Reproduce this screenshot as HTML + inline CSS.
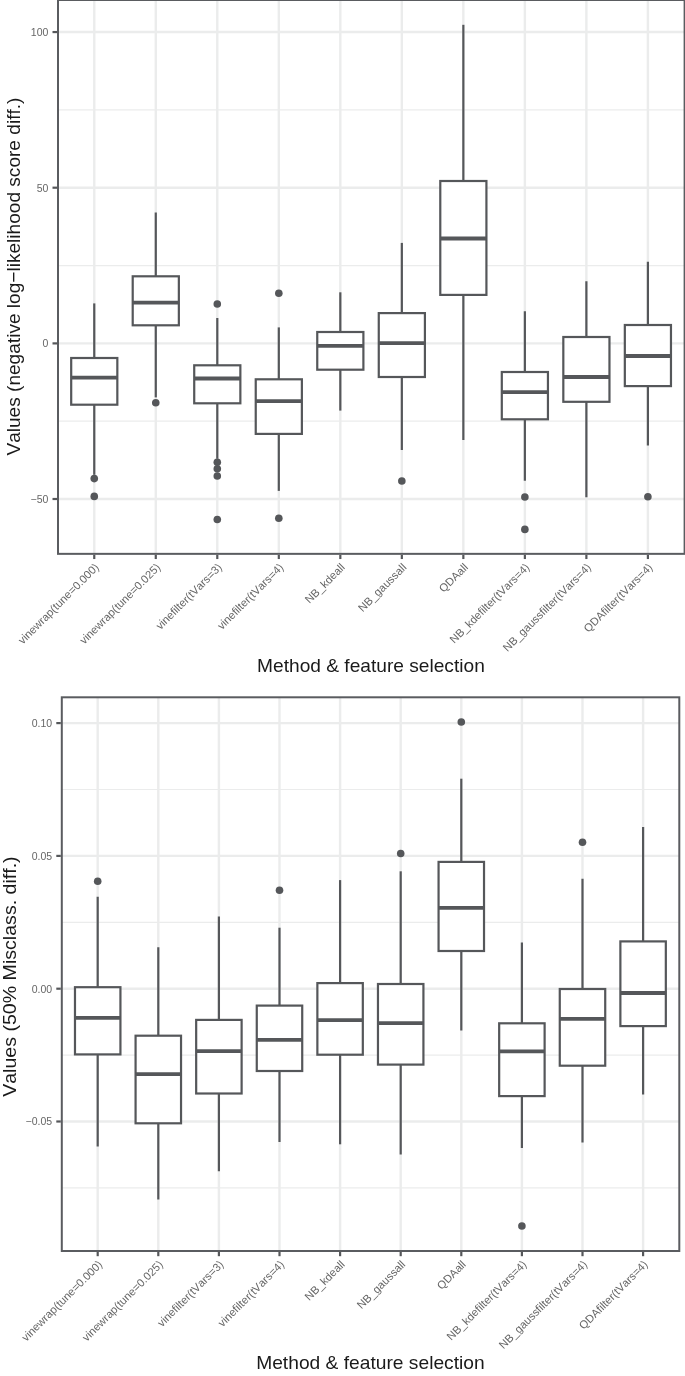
<!DOCTYPE html>
<html><head><meta charset="utf-8"><title>Boxplots</title>
<style>
html,body{margin:0;padding:0;background:#fff;}
body{width:685px;height:1376px;overflow:hidden;font-family:"Liberation Sans",sans-serif;}
svg{display:block;font-family:"Liberation Sans",sans-serif;will-change:transform;font-kerning:none;}
</style></head><body>
<svg width="685" height="1376" viewBox="0 0 685 1376">
<rect width="685" height="1376" fill="#fff"/>
<clipPath id="ac"><rect x="58.0" y="0.0" width="626.6" height="553.85"/></clipPath>
<g clip-path="url(#ac)">
<line x1="58.0" x2="684.6" y1="109.9" y2="109.9" stroke="#ebecec" stroke-width="1.2"/>
<line x1="58.0" x2="684.6" y1="265.6" y2="265.6" stroke="#ebecec" stroke-width="1.2"/>
<line x1="58.0" x2="684.6" y1="421.2" y2="421.2" stroke="#ebecec" stroke-width="1.2"/>
<line x1="58.0" x2="684.6" y1="32.06" y2="32.06" stroke="#ebecec" stroke-width="2.4"/>
<line x1="58.0" x2="684.6" y1="187.7" y2="187.7" stroke="#ebecec" stroke-width="2.4"/>
<line x1="58.0" x2="684.6" y1="343.4" y2="343.4" stroke="#ebecec" stroke-width="2.4"/>
<line x1="58.0" x2="684.6" y1="499.0" y2="499.0" stroke="#ebecec" stroke-width="2.4"/>
<line x1="94.26" x2="94.26" y1="0.0" y2="553.85" stroke="#ebecec" stroke-width="2.4"/>
<line x1="155.78" x2="155.78" y1="0.0" y2="553.85" stroke="#ebecec" stroke-width="2.4"/>
<line x1="217.29" x2="217.29" y1="0.0" y2="553.85" stroke="#ebecec" stroke-width="2.4"/>
<line x1="278.81" x2="278.81" y1="0.0" y2="553.85" stroke="#ebecec" stroke-width="2.4"/>
<line x1="340.32" x2="340.32" y1="0.0" y2="553.85" stroke="#ebecec" stroke-width="2.4"/>
<line x1="401.84" x2="401.84" y1="0.0" y2="553.85" stroke="#ebecec" stroke-width="2.4"/>
<line x1="463.35" x2="463.35" y1="0.0" y2="553.85" stroke="#ebecec" stroke-width="2.4"/>
<line x1="524.87" x2="524.87" y1="0.0" y2="553.85" stroke="#ebecec" stroke-width="2.4"/>
<line x1="586.38" x2="586.38" y1="0.0" y2="553.85" stroke="#ebecec" stroke-width="2.4"/>
<line x1="647.90" x2="647.90" y1="0.0" y2="553.85" stroke="#ebecec" stroke-width="2.4"/>
<line x1="94.26" x2="94.26" y1="303.4" y2="358.0" stroke="#55575a" stroke-width="2.2"/>
<line x1="94.26" x2="94.26" y1="404.7" y2="474.8" stroke="#55575a" stroke-width="2.2"/>
<rect x="71.19" y="358.0" width="46.14" height="46.70" fill="#fff" stroke="#55575a" stroke-width="2.2"/>
<line x1="71.19" x2="117.33" y1="377.6" y2="377.6" stroke="#55575a" stroke-width="3.8"/>
<circle cx="94.26" cy="478.6" r="3.8" fill="#55575a"/>
<circle cx="94.26" cy="496.4" r="3.8" fill="#55575a"/>
<line x1="155.78" x2="155.78" y1="212.5" y2="276.3" stroke="#55575a" stroke-width="2.2"/>
<line x1="155.78" x2="155.78" y1="325.3" y2="397.4" stroke="#55575a" stroke-width="2.2"/>
<rect x="132.71" y="276.3" width="46.14" height="49.00" fill="#fff" stroke="#55575a" stroke-width="2.2"/>
<line x1="132.71" x2="178.84" y1="302.6" y2="302.6" stroke="#55575a" stroke-width="3.8"/>
<circle cx="155.78" cy="402.7" r="3.8" fill="#55575a"/>
<line x1="217.29" x2="217.29" y1="318.0" y2="365.3" stroke="#55575a" stroke-width="2.2"/>
<line x1="217.29" x2="217.29" y1="403.3" y2="458.8" stroke="#55575a" stroke-width="2.2"/>
<rect x="194.22" y="365.3" width="46.14" height="38.00" fill="#fff" stroke="#55575a" stroke-width="2.2"/>
<line x1="194.22" x2="240.36" y1="378.5" y2="378.5" stroke="#55575a" stroke-width="3.8"/>
<circle cx="217.29" cy="304.0" r="3.8" fill="#55575a"/>
<circle cx="217.29" cy="462.3" r="3.8" fill="#55575a"/>
<circle cx="217.29" cy="468.7" r="3.8" fill="#55575a"/>
<circle cx="217.29" cy="476.0" r="3.8" fill="#55575a"/>
<circle cx="217.29" cy="519.5" r="3.8" fill="#55575a"/>
<line x1="278.81" x2="278.81" y1="327.4" y2="379.3" stroke="#55575a" stroke-width="2.2"/>
<line x1="278.81" x2="278.81" y1="433.9" y2="490.9" stroke="#55575a" stroke-width="2.2"/>
<rect x="255.74" y="379.3" width="46.14" height="54.60" fill="#fff" stroke="#55575a" stroke-width="2.2"/>
<line x1="255.74" x2="301.88" y1="401.2" y2="401.2" stroke="#55575a" stroke-width="3.8"/>
<circle cx="278.81" cy="293.2" r="3.8" fill="#55575a"/>
<circle cx="278.81" cy="518.3" r="3.8" fill="#55575a"/>
<line x1="340.32" x2="340.32" y1="292.3" y2="332.0" stroke="#55575a" stroke-width="2.2"/>
<line x1="340.32" x2="340.32" y1="369.7" y2="410.6" stroke="#55575a" stroke-width="2.2"/>
<rect x="317.25" y="332.0" width="46.14" height="37.70" fill="#fff" stroke="#55575a" stroke-width="2.2"/>
<line x1="317.25" x2="363.39" y1="345.8" y2="345.8" stroke="#55575a" stroke-width="3.8"/>
<line x1="401.84" x2="401.84" y1="242.9" y2="313.1" stroke="#55575a" stroke-width="2.2"/>
<line x1="401.84" x2="401.84" y1="377.0" y2="450.0" stroke="#55575a" stroke-width="2.2"/>
<rect x="378.77" y="313.1" width="46.14" height="63.90" fill="#fff" stroke="#55575a" stroke-width="2.2"/>
<line x1="378.77" x2="424.91" y1="343.1" y2="343.1" stroke="#55575a" stroke-width="3.8"/>
<circle cx="401.84" cy="481.0" r="3.8" fill="#55575a"/>
<line x1="463.35" x2="463.35" y1="24.8" y2="181.0" stroke="#55575a" stroke-width="2.2"/>
<line x1="463.35" x2="463.35" y1="294.9" y2="440.0" stroke="#55575a" stroke-width="2.2"/>
<rect x="440.28" y="181.0" width="46.14" height="113.90" fill="#fff" stroke="#55575a" stroke-width="2.2"/>
<line x1="440.28" x2="486.42" y1="238.5" y2="238.5" stroke="#55575a" stroke-width="3.8"/>
<line x1="524.87" x2="524.87" y1="311.3" y2="372.0" stroke="#55575a" stroke-width="2.2"/>
<line x1="524.87" x2="524.87" y1="419.3" y2="480.7" stroke="#55575a" stroke-width="2.2"/>
<rect x="501.80" y="372.0" width="46.14" height="47.30" fill="#fff" stroke="#55575a" stroke-width="2.2"/>
<line x1="501.80" x2="547.94" y1="392.2" y2="392.2" stroke="#55575a" stroke-width="3.8"/>
<circle cx="524.87" cy="497.0" r="3.8" fill="#55575a"/>
<circle cx="524.87" cy="529.4" r="3.8" fill="#55575a"/>
<line x1="586.38" x2="586.38" y1="281.2" y2="337.0" stroke="#55575a" stroke-width="2.2"/>
<line x1="586.38" x2="586.38" y1="401.8" y2="497.3" stroke="#55575a" stroke-width="2.2"/>
<rect x="563.32" y="337.0" width="46.14" height="64.80" fill="#fff" stroke="#55575a" stroke-width="2.2"/>
<line x1="563.32" x2="609.45" y1="377.0" y2="377.0" stroke="#55575a" stroke-width="3.8"/>
<line x1="647.90" x2="647.90" y1="261.7" y2="325.0" stroke="#55575a" stroke-width="2.2"/>
<line x1="647.90" x2="647.90" y1="386.1" y2="445.6" stroke="#55575a" stroke-width="2.2"/>
<rect x="624.83" y="325.0" width="46.14" height="61.10" fill="#fff" stroke="#55575a" stroke-width="2.2"/>
<line x1="624.83" x2="670.97" y1="356.0" y2="356.0" stroke="#55575a" stroke-width="3.8"/>
<circle cx="647.90" cy="496.7" r="3.8" fill="#55575a"/>
</g>
<rect x="58.0" y="0.0" width="626.6" height="553.85" fill="none" stroke="#5a5c60" stroke-width="2.0"/>
<line x1="52.5" x2="57.0" y1="32.06" y2="32.06" stroke="#55575a" stroke-width="2.2"/>
<text x="48.4" y="35.86" text-anchor="end" font-size="10.5" fill="#666666">100</text>
<line x1="52.5" x2="57.0" y1="187.7" y2="187.7" stroke="#55575a" stroke-width="2.2"/>
<text x="48.4" y="191.5" text-anchor="end" font-size="10.5" fill="#666666">50</text>
<line x1="52.5" x2="57.0" y1="343.4" y2="343.4" stroke="#55575a" stroke-width="2.2"/>
<text x="48.4" y="347.2" text-anchor="end" font-size="10.5" fill="#666666">0</text>
<line x1="52.5" x2="57.0" y1="499.0" y2="499.0" stroke="#55575a" stroke-width="2.2"/>
<text x="48.4" y="502.8" text-anchor="end" font-size="10.5" fill="#666666">−50</text>
<line x1="94.26" x2="94.26" y1="554.85" y2="559.0500000000001" stroke="#55575a" stroke-width="2.2"/>
<text transform="translate(99.56,568.05) rotate(-45)" text-anchor="end" font-size="11.2" fill="#666666">vinewrap(tune=0.000)</text>
<line x1="155.78" x2="155.78" y1="554.85" y2="559.0500000000001" stroke="#55575a" stroke-width="2.2"/>
<text transform="translate(161.08,568.05) rotate(-45)" text-anchor="end" font-size="11.2" fill="#666666">vinewrap(tune=0.025)</text>
<line x1="217.29" x2="217.29" y1="554.85" y2="559.0500000000001" stroke="#55575a" stroke-width="2.2"/>
<text transform="translate(222.59,568.05) rotate(-45)" text-anchor="end" font-size="11.2" fill="#666666">vinefilter(tVars=3)</text>
<line x1="278.81" x2="278.81" y1="554.85" y2="559.0500000000001" stroke="#55575a" stroke-width="2.2"/>
<text transform="translate(284.11,568.05) rotate(-45)" text-anchor="end" font-size="11.2" fill="#666666">vinefilter(tVars=4)</text>
<line x1="340.32" x2="340.32" y1="554.85" y2="559.0500000000001" stroke="#55575a" stroke-width="2.2"/>
<text transform="translate(345.62,568.05) rotate(-45)" text-anchor="end" font-size="11.2" fill="#666666">NB_kdeall</text>
<line x1="401.84" x2="401.84" y1="554.85" y2="559.0500000000001" stroke="#55575a" stroke-width="2.2"/>
<text transform="translate(407.14,568.05) rotate(-45)" text-anchor="end" font-size="11.2" fill="#666666">NB_gaussall</text>
<line x1="463.35" x2="463.35" y1="554.85" y2="559.0500000000001" stroke="#55575a" stroke-width="2.2"/>
<text transform="translate(468.65,568.05) rotate(-45)" text-anchor="end" font-size="11.2" fill="#666666">QDAall</text>
<line x1="524.87" x2="524.87" y1="554.85" y2="559.0500000000001" stroke="#55575a" stroke-width="2.2"/>
<text transform="translate(530.17,568.05) rotate(-45)" text-anchor="end" font-size="11.2" fill="#666666">NB_kdefilter(tVars=4)</text>
<line x1="586.38" x2="586.38" y1="554.85" y2="559.0500000000001" stroke="#55575a" stroke-width="2.2"/>
<text transform="translate(591.68,568.05) rotate(-45)" text-anchor="end" font-size="11.2" fill="#666666">NB_gaussfilter(tVars=4)</text>
<line x1="647.90" x2="647.90" y1="554.85" y2="559.0500000000001" stroke="#55575a" stroke-width="2.2"/>
<text transform="translate(653.20,568.05) rotate(-45)" text-anchor="end" font-size="11.2" fill="#666666">QDAfilter(tVars=4)</text>
<text transform="translate(20.1,276.6) rotate(-90)" text-anchor="middle" font-size="19" fill="#1a1a1a" textLength="358" lengthAdjust="spacingAndGlyphs">Values (negative log−likelihood score diff.)</text>
<text x="257.1" y="672.3" font-size="19" fill="#1a1a1a" textLength="227.7" lengthAdjust="spacingAndGlyphs">Method &amp; feature selection</text>
<clipPath id="bc"><rect x="61.8" y="697.3" width="617.5" height="553.7"/></clipPath>
<g clip-path="url(#bc)">
<line x1="61.8" x2="679.3" y1="789.5" y2="789.5" stroke="#ebecec" stroke-width="1.2"/>
<line x1="61.8" x2="679.3" y1="922.3" y2="922.3" stroke="#ebecec" stroke-width="1.2"/>
<line x1="61.8" x2="679.3" y1="1055.1" y2="1055.1" stroke="#ebecec" stroke-width="1.2"/>
<line x1="61.8" x2="679.3" y1="1187.9" y2="1187.9" stroke="#ebecec" stroke-width="1.2"/>
<line x1="61.8" x2="679.3" y1="723.1" y2="723.1" stroke="#ebecec" stroke-width="2.4"/>
<line x1="61.8" x2="679.3" y1="855.9" y2="855.9" stroke="#ebecec" stroke-width="2.4"/>
<line x1="61.8" x2="679.3" y1="988.7" y2="988.7" stroke="#ebecec" stroke-width="2.4"/>
<line x1="61.8" x2="679.3" y1="1121.5" y2="1121.5" stroke="#ebecec" stroke-width="2.4"/>
<line x1="97.70" x2="97.70" y1="697.3" y2="1251.0" stroke="#ebecec" stroke-width="2.4"/>
<line x1="158.30" x2="158.30" y1="697.3" y2="1251.0" stroke="#ebecec" stroke-width="2.4"/>
<line x1="218.90" x2="218.90" y1="697.3" y2="1251.0" stroke="#ebecec" stroke-width="2.4"/>
<line x1="279.50" x2="279.50" y1="697.3" y2="1251.0" stroke="#ebecec" stroke-width="2.4"/>
<line x1="340.10" x2="340.10" y1="697.3" y2="1251.0" stroke="#ebecec" stroke-width="2.4"/>
<line x1="400.70" x2="400.70" y1="697.3" y2="1251.0" stroke="#ebecec" stroke-width="2.4"/>
<line x1="461.30" x2="461.30" y1="697.3" y2="1251.0" stroke="#ebecec" stroke-width="2.4"/>
<line x1="521.90" x2="521.90" y1="697.3" y2="1251.0" stroke="#ebecec" stroke-width="2.4"/>
<line x1="582.50" x2="582.50" y1="697.3" y2="1251.0" stroke="#ebecec" stroke-width="2.4"/>
<line x1="643.10" x2="643.10" y1="697.3" y2="1251.0" stroke="#ebecec" stroke-width="2.4"/>
<line x1="97.70" x2="97.70" y1="896.7" y2="987.2" stroke="#55575a" stroke-width="2.2"/>
<line x1="97.70" x2="97.70" y1="1054.4" y2="1146.4" stroke="#55575a" stroke-width="2.2"/>
<rect x="74.98" y="987.2" width="45.45" height="67.20" fill="#fff" stroke="#55575a" stroke-width="2.2"/>
<line x1="74.98" x2="120.42" y1="1017.9" y2="1017.9" stroke="#55575a" stroke-width="3.8"/>
<circle cx="97.70" cy="881.2" r="3.8" fill="#55575a"/>
<line x1="158.30" x2="158.30" y1="947.2" y2="1035.7" stroke="#55575a" stroke-width="2.2"/>
<line x1="158.30" x2="158.30" y1="1123.3" y2="1199.5" stroke="#55575a" stroke-width="2.2"/>
<rect x="135.58" y="1035.7" width="45.45" height="87.60" fill="#fff" stroke="#55575a" stroke-width="2.2"/>
<line x1="135.58" x2="181.03" y1="1074.2" y2="1074.2" stroke="#55575a" stroke-width="3.8"/>
<line x1="218.90" x2="218.90" y1="916.6" y2="1019.9" stroke="#55575a" stroke-width="2.2"/>
<line x1="218.90" x2="218.90" y1="1093.5" y2="1171.2" stroke="#55575a" stroke-width="2.2"/>
<rect x="196.17" y="1019.9" width="45.45" height="73.60" fill="#fff" stroke="#55575a" stroke-width="2.2"/>
<line x1="196.17" x2="241.62" y1="1051.2" y2="1051.2" stroke="#55575a" stroke-width="3.8"/>
<line x1="279.50" x2="279.50" y1="927.7" y2="1005.6" stroke="#55575a" stroke-width="2.2"/>
<line x1="279.50" x2="279.50" y1="1071.0" y2="1142.0" stroke="#55575a" stroke-width="2.2"/>
<rect x="256.77" y="1005.6" width="45.45" height="65.40" fill="#fff" stroke="#55575a" stroke-width="2.2"/>
<line x1="256.77" x2="302.23" y1="1039.8" y2="1039.8" stroke="#55575a" stroke-width="3.8"/>
<circle cx="279.50" cy="890.3" r="3.8" fill="#55575a"/>
<line x1="340.10" x2="340.10" y1="880.1" y2="983.1" stroke="#55575a" stroke-width="2.2"/>
<line x1="340.10" x2="340.10" y1="1054.7" y2="1144.3" stroke="#55575a" stroke-width="2.2"/>
<rect x="317.37" y="983.1" width="45.45" height="71.60" fill="#fff" stroke="#55575a" stroke-width="2.2"/>
<line x1="317.37" x2="362.82" y1="1020.2" y2="1020.2" stroke="#55575a" stroke-width="3.8"/>
<line x1="400.70" x2="400.70" y1="871.3" y2="984.0" stroke="#55575a" stroke-width="2.2"/>
<line x1="400.70" x2="400.70" y1="1064.6" y2="1154.5" stroke="#55575a" stroke-width="2.2"/>
<rect x="377.97" y="984.0" width="45.45" height="80.60" fill="#fff" stroke="#55575a" stroke-width="2.2"/>
<line x1="377.97" x2="423.43" y1="1023.1" y2="1023.1" stroke="#55575a" stroke-width="3.8"/>
<circle cx="400.70" cy="853.5" r="3.8" fill="#55575a"/>
<line x1="461.30" x2="461.30" y1="778.7" y2="861.9" stroke="#55575a" stroke-width="2.2"/>
<line x1="461.30" x2="461.30" y1="951.0" y2="1030.5" stroke="#55575a" stroke-width="2.2"/>
<rect x="438.57" y="861.9" width="45.45" height="89.10" fill="#fff" stroke="#55575a" stroke-width="2.2"/>
<line x1="438.57" x2="484.02" y1="907.8" y2="907.8" stroke="#55575a" stroke-width="3.8"/>
<circle cx="461.30" cy="722.0" r="3.8" fill="#55575a"/>
<line x1="521.90" x2="521.90" y1="942.6" y2="1023.3" stroke="#55575a" stroke-width="2.2"/>
<line x1="521.90" x2="521.90" y1="1096.1" y2="1148.0" stroke="#55575a" stroke-width="2.2"/>
<rect x="499.17" y="1023.3" width="45.45" height="72.80" fill="#fff" stroke="#55575a" stroke-width="2.2"/>
<line x1="499.17" x2="544.62" y1="1051.3" y2="1051.3" stroke="#55575a" stroke-width="3.8"/>
<circle cx="521.90" cy="1226.0" r="3.8" fill="#55575a"/>
<line x1="582.50" x2="582.50" y1="878.7" y2="989.0" stroke="#55575a" stroke-width="2.2"/>
<line x1="582.50" x2="582.50" y1="1065.7" y2="1142.4" stroke="#55575a" stroke-width="2.2"/>
<rect x="559.77" y="989.0" width="45.45" height="76.70" fill="#fff" stroke="#55575a" stroke-width="2.2"/>
<line x1="559.77" x2="605.23" y1="1018.9" y2="1018.9" stroke="#55575a" stroke-width="3.8"/>
<circle cx="582.50" cy="842.3" r="3.8" fill="#55575a"/>
<line x1="643.10" x2="643.10" y1="827.1" y2="941.4" stroke="#55575a" stroke-width="2.2"/>
<line x1="643.10" x2="643.10" y1="1026.1" y2="1094.5" stroke="#55575a" stroke-width="2.2"/>
<rect x="620.38" y="941.4" width="45.45" height="84.70" fill="#fff" stroke="#55575a" stroke-width="2.2"/>
<line x1="620.38" x2="665.83" y1="993.0" y2="993.0" stroke="#55575a" stroke-width="3.8"/>
</g>
<rect x="61.8" y="697.3" width="617.5" height="553.7" fill="none" stroke="#5a5c60" stroke-width="2.0"/>
<line x1="56.3" x2="60.8" y1="723.1" y2="723.1" stroke="#55575a" stroke-width="2.2"/>
<text x="52.199999999999996" y="726.9" text-anchor="end" font-size="10.5" fill="#666666">0.10</text>
<line x1="56.3" x2="60.8" y1="855.9" y2="855.9" stroke="#55575a" stroke-width="2.2"/>
<text x="52.199999999999996" y="859.6999999999999" text-anchor="end" font-size="10.5" fill="#666666">0.05</text>
<line x1="56.3" x2="60.8" y1="988.7" y2="988.7" stroke="#55575a" stroke-width="2.2"/>
<text x="52.199999999999996" y="992.5" text-anchor="end" font-size="10.5" fill="#666666">0.00</text>
<line x1="56.3" x2="60.8" y1="1121.5" y2="1121.5" stroke="#55575a" stroke-width="2.2"/>
<text x="52.199999999999996" y="1125.3" text-anchor="end" font-size="10.5" fill="#666666">−0.05</text>
<line x1="97.70" x2="97.70" y1="1252.0" y2="1256.2" stroke="#55575a" stroke-width="2.2"/>
<text transform="translate(103.00,1265.20) rotate(-45)" text-anchor="end" font-size="11.2" fill="#666666">vinewrap(tune=0.000)</text>
<line x1="158.30" x2="158.30" y1="1252.0" y2="1256.2" stroke="#55575a" stroke-width="2.2"/>
<text transform="translate(163.60,1265.20) rotate(-45)" text-anchor="end" font-size="11.2" fill="#666666">vinewrap(tune=0.025)</text>
<line x1="218.90" x2="218.90" y1="1252.0" y2="1256.2" stroke="#55575a" stroke-width="2.2"/>
<text transform="translate(224.20,1265.20) rotate(-45)" text-anchor="end" font-size="11.2" fill="#666666">vinefilter(tVars=3)</text>
<line x1="279.50" x2="279.50" y1="1252.0" y2="1256.2" stroke="#55575a" stroke-width="2.2"/>
<text transform="translate(284.80,1265.20) rotate(-45)" text-anchor="end" font-size="11.2" fill="#666666">vinefilter(tVars=4)</text>
<line x1="340.10" x2="340.10" y1="1252.0" y2="1256.2" stroke="#55575a" stroke-width="2.2"/>
<text transform="translate(345.40,1265.20) rotate(-45)" text-anchor="end" font-size="11.2" fill="#666666">NB_kdeall</text>
<line x1="400.70" x2="400.70" y1="1252.0" y2="1256.2" stroke="#55575a" stroke-width="2.2"/>
<text transform="translate(406.00,1265.20) rotate(-45)" text-anchor="end" font-size="11.2" fill="#666666">NB_gaussall</text>
<line x1="461.30" x2="461.30" y1="1252.0" y2="1256.2" stroke="#55575a" stroke-width="2.2"/>
<text transform="translate(466.60,1265.20) rotate(-45)" text-anchor="end" font-size="11.2" fill="#666666">QDAall</text>
<line x1="521.90" x2="521.90" y1="1252.0" y2="1256.2" stroke="#55575a" stroke-width="2.2"/>
<text transform="translate(527.20,1265.20) rotate(-45)" text-anchor="end" font-size="11.2" fill="#666666">NB_kdefilter(tVars=4)</text>
<line x1="582.50" x2="582.50" y1="1252.0" y2="1256.2" stroke="#55575a" stroke-width="2.2"/>
<text transform="translate(587.80,1265.20) rotate(-45)" text-anchor="end" font-size="11.2" fill="#666666">NB_gaussfilter(tVars=4)</text>
<line x1="643.10" x2="643.10" y1="1252.0" y2="1256.2" stroke="#55575a" stroke-width="2.2"/>
<text transform="translate(648.40,1265.20) rotate(-45)" text-anchor="end" font-size="11.2" fill="#666666">QDAfilter(tVars=4)</text>
<text transform="translate(16.4,976.6) rotate(-90)" text-anchor="middle" font-size="19" fill="#1a1a1a" textLength="240.5" lengthAdjust="spacingAndGlyphs">Values (50% Misclass. diff.)</text>
<text x="256.2" y="1369.0" font-size="19" fill="#1a1a1a" textLength="228.5" lengthAdjust="spacingAndGlyphs">Method &amp; feature selection</text>
</svg>
</body></html>
